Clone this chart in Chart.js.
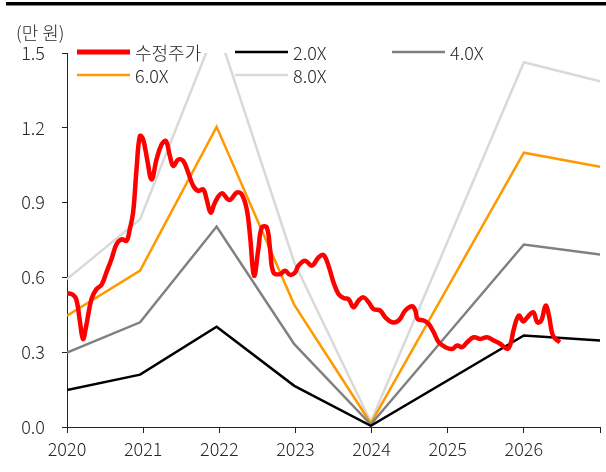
<!DOCTYPE html>
<html><head><meta charset="utf-8">
<script src="https://cdn.jsdelivr.net/npm/chart.js@4.4.1/dist/chart.umd.min.js"></script>
<style>html,body{margin:0;padding:0;background:#fff;}#wrap{position:relative;width:606px;height:472px;}</style>
</head><body><div id="wrap"><canvas id="c" width="606" height="472"></canvas></div>
<script>
// ---- data ----
const unitLabel = '(만 원)';
const seriesNames = ['수정주가', '2.0X', '4.0X', '6.0X', '8.0X'];
const seriesColors = ['#FF0000', '#000000', '#808080', '#FF9900', '#D9D9D9'];

const priceYears = [
  2020.0, 2020.079, 2020.124, 2020.167, 2020.21, 2020.255, 2020.321, 2020.387, 2020.453, 2020.518,
  2020.584, 2020.65, 2020.716, 2020.782, 2020.825, 2020.868, 2020.913, 2020.957, 2021.0, 2021.053,
  2021.111, 2021.176, 2021.242, 2021.299, 2021.351, 2021.395, 2021.461, 2021.526, 2021.592, 2021.658,
  2021.724, 2021.789, 2021.834, 2021.887, 2021.943, 2022.032, 2022.132, 2022.229, 2022.295, 2022.361,
  2022.404, 2022.457, 2022.513, 2022.558, 2022.624, 2022.667, 2022.711, 2022.799, 2022.864, 2022.93,
  2022.996, 2023.039, 2023.128, 2023.216, 2023.303, 2023.368, 2023.434, 2023.5, 2023.566, 2023.632,
  2023.697, 2023.763, 2023.829, 2023.895, 2023.961, 2024.026, 2024.114, 2024.18, 2024.268, 2024.355,
  2024.443, 2024.532, 2024.575, 2024.605, 2024.684, 2024.75, 2024.816, 2024.882, 2024.97, 2025.058,
  2025.124, 2025.189, 2025.255, 2025.342, 2025.43, 2025.518, 2025.605, 2025.693, 2025.782, 2025.825,
  2025.868, 2025.934, 2025.992, 2026.045, 2026.124, 2026.176, 2026.229, 2026.286, 2026.329, 2026.374,
  2026.417, 2026.474
];
const priceValues = [
  0.537, 0.53, 0.51, 0.43, 0.353, 0.41, 0.513, 0.553, 0.57, 0.62,
  0.673, 0.733, 0.753, 0.747, 0.793, 0.86, 1.033, 1.167, 1.153, 1.073,
  0.993, 1.073, 1.133, 1.147, 1.087, 1.047, 1.073, 1.067, 1.02, 0.967,
  0.947, 0.953, 0.913, 0.86, 0.90, 0.937, 0.91, 0.94, 0.933, 0.873,
  0.767, 0.607, 0.713, 0.80, 0.80, 0.713, 0.62, 0.613, 0.627, 0.61,
  0.62, 0.647, 0.667, 0.647, 0.68, 0.69, 0.647, 0.58, 0.533, 0.517,
  0.513, 0.48, 0.507, 0.52, 0.50, 0.473, 0.467, 0.44, 0.42, 0.427,
  0.467, 0.484, 0.467, 0.433, 0.427, 0.413, 0.38, 0.34, 0.32, 0.313,
  0.327, 0.32, 0.34, 0.36, 0.353, 0.36, 0.347, 0.333, 0.313, 0.333,
  0.393, 0.447, 0.423, 0.44, 0.46, 0.42, 0.427, 0.487, 0.447, 0.373,
  0.353, 0.34
];

const bandYears = [2020.0, 2020.96, 2021.965, 2022.985, 2023.99, 2026.0, 2027.0];
const band2x = [0.148, 0.21, 0.402, 0.165, 0.005, 0.367, 0.347];
const band4x = [0.298, 0.42, 0.804, 0.332, 0.010, 0.732, 0.692];
const band6x = [0.446, 0.627, 1.204, 0.49, 0.015, 1.10, 1.044];
const band8x = [0.593, 0.833, 1.606, 0.66, 0.020, 1.463, 1.387];

const xMin = 2020, xMax = 2027, xStep = 1;
const yMin = 0, yMax = 1.5, yStep = 0.3;

// ---- build ----
const FONT = "'Noto Sans CJK KR', 'Noto Sans', sans-serif";
const TXT = '#262626';
function pts(xs, ys) { return xs.map((x, i) => ({ x: x, y: ys[i] })); }

const bandSets = [band2x, band4x, band6x, band8x];
const datasets = [{
  label: seriesNames[0], data: pts(priceYears, priceValues),
  borderColor: seriesColors[0], borderWidth: 4.5, tension: 0.4,
  pointRadius: 0, fill: false
}];
bandSets.forEach((vals, i) => {
  datasets.push({
    label: seriesNames[i + 1], data: pts(bandYears, vals),
    borderColor: seriesColors[i + 1], borderWidth: 2.5, tension: 0,
    pointRadius: 0, fill: false
  });
});

const extras = {
  id: 'extras',
  afterDraw(chart) {
    const ctx = chart.ctx;
    ctx.save();
    // top rule
    ctx.fillStyle = '#000';
    ctx.fillRect(6, 2, 600, 3.5);
    // unit label
    ctx.fillStyle = TXT;
    ctx.font = '300 18px ' + FONT;
    ctx.textAlign = 'left';
    ctx.textBaseline = 'middle';
    ctx.fillText(unitLabel, 16, 33);
    // legend
    const cols = [77, 235, 392];
    const rows = [52, 75];
    chart.data.datasets.forEach((ds, i) => {
      const cx = cols[i % 3], cy = rows[Math.floor(i / 3)];
      ctx.strokeStyle = ds.borderColor;
      ctx.lineWidth = i === 0 ? 5 : 2.5;
      ctx.beginPath();
      ctx.moveTo(cx, cy);
      ctx.lineTo(cx + 53, cy);
      ctx.stroke();
      ctx.fillStyle = TXT;
      ctx.fillText(ds.label, cx + 58, cy + 1);
    });
    ctx.restore();
  }
};

new Chart(document.getElementById('c'), {
  type: 'line',
  data: { datasets: datasets },
  options: {
    responsive: false, animation: false,
    layout: { padding: { top: 53, right: 6, left: 0, bottom: 0 } },
    plugins: { legend: { display: false }, tooltip: { enabled: false } },
    scales: {
      x: {
        type: 'linear', min: xMin, max: xMax,
        ticks: {
          stepSize: xStep, autoSkip: false, maxRotation: 0, padding: 5,
          color: TXT, font: { family: FONT, size: 18, weight: '300' },
          callback: v => (v === xMax ? '' : String(v))
        },
        grid: { drawOnChartArea: false, drawTicks: true, tickLength: 6, color: '#222' },
        border: { display: true, color: '#222', width: 1 },
        afterFit: s => { s.height = 45; }
      },
      y: {
        min: yMin, max: yMax,
        ticks: {
          stepSize: yStep, padding: 17, color: TXT,
          font: { family: FONT, size: 18, weight: '300' },
          callback: v => Number(v).toFixed(1)
        },
        grid: { drawOnChartArea: false, drawTicks: true, tickLength: 5, color: '#222' },
        border: { display: true, color: '#222', width: 1 },
        afterFit: s => { s.width = 67; }
      }
    }
  },
  plugins: [extras]
});
</script>
</body></html>
